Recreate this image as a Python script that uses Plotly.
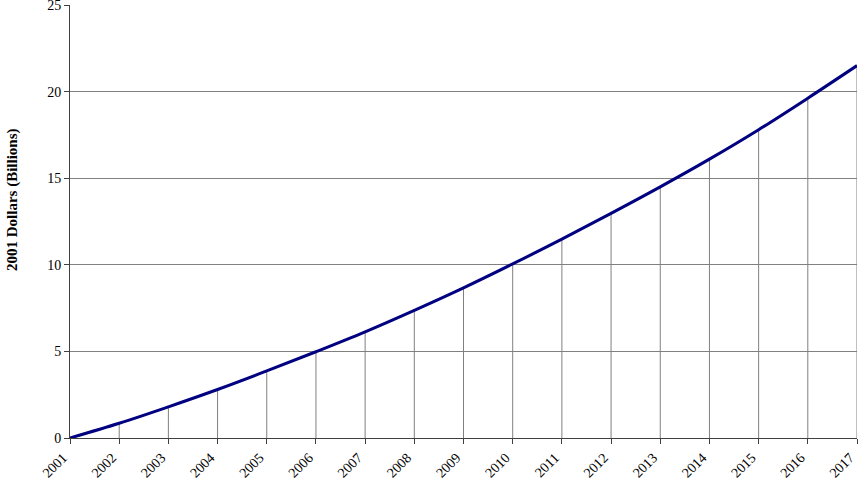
import plotly.graph_objects as go

years = list(range(2001, 2018))
values = [0.0, 0.85, 1.8, 2.8, 3.87, 4.98, 6.13, 7.37, 8.67, 10.05, 11.48,
          12.97, 14.5, 16.1, 17.8, 19.62, 21.5]
y_ticks = [0, 5, 10, 15, 20, 25]
y_title = "2001 Dollars (Billions)"

drop_x, drop_y = [], []
for yr, v in zip(years, values):
    drop_x += [yr, yr, None]
    drop_y += [0, v, None]

fig = go.Figure()
fig.add_trace(go.Scatter(x=drop_x, y=drop_y, mode="lines",
                         line=dict(color="#808080", width=1),
                         hoverinfo="skip", showlegend=False))
fig.add_trace(go.Scatter(x=years, y=values, mode="lines",
                         line=dict(color="#000080", width=3, shape="spline"),
                         cliponaxis=False, showlegend=False))

font = dict(family="Liberation Serif, Times New Roman, serif", size=14, color="#000000")
W, H = 858, 481
L, R, T, B = 70, 1, 5, 43
plot_w = W - L - R
plot_h = H - T - B
fig.update_layout(
    width=W, height=H,
    margin=dict(l=L, r=R, t=T, b=B, autoexpand=False),
    plot_bgcolor="white", paper_bgcolor="white",
    font=font,
    xaxis=dict(range=[2001, 2017], tickvals=years, ticktext=[str(y) for y in years],
               tickangle=-45, showgrid=False, zeroline=False, automargin=False,
               ticklabeloverflow="allow", ticklabelshift=-7,
               showline=True, linecolor="#404040", linewidth=1,
               ticks="outside", ticklen=5, tickcolor="#404040"),
    yaxis=dict(range=[0, 25], tickvals=y_ticks, showgrid=True, gridcolor="#808080",
               gridwidth=1, zeroline=False, showline=True, linecolor="#404040",
               automargin=False, ticklabeloverflow="allow",
               linewidth=1, ticks="outside", ticklen=5, tickcolor="#404040"),
    annotations=[dict(text="<b>" + y_title + "</b>", xref="paper", yref="paper",
                      x=(12 - L) / plot_w, y=(H - B - 200) / plot_h,
                      xanchor="center", yanchor="middle",
                      textangle=-90, showarrow=False, font=dict(size=15))],
)
fig.write_html("out.html", config={"displayModeBar": False},
               post_script="document.body.style.margin='0';document.body.style.overflow='hidden';")
